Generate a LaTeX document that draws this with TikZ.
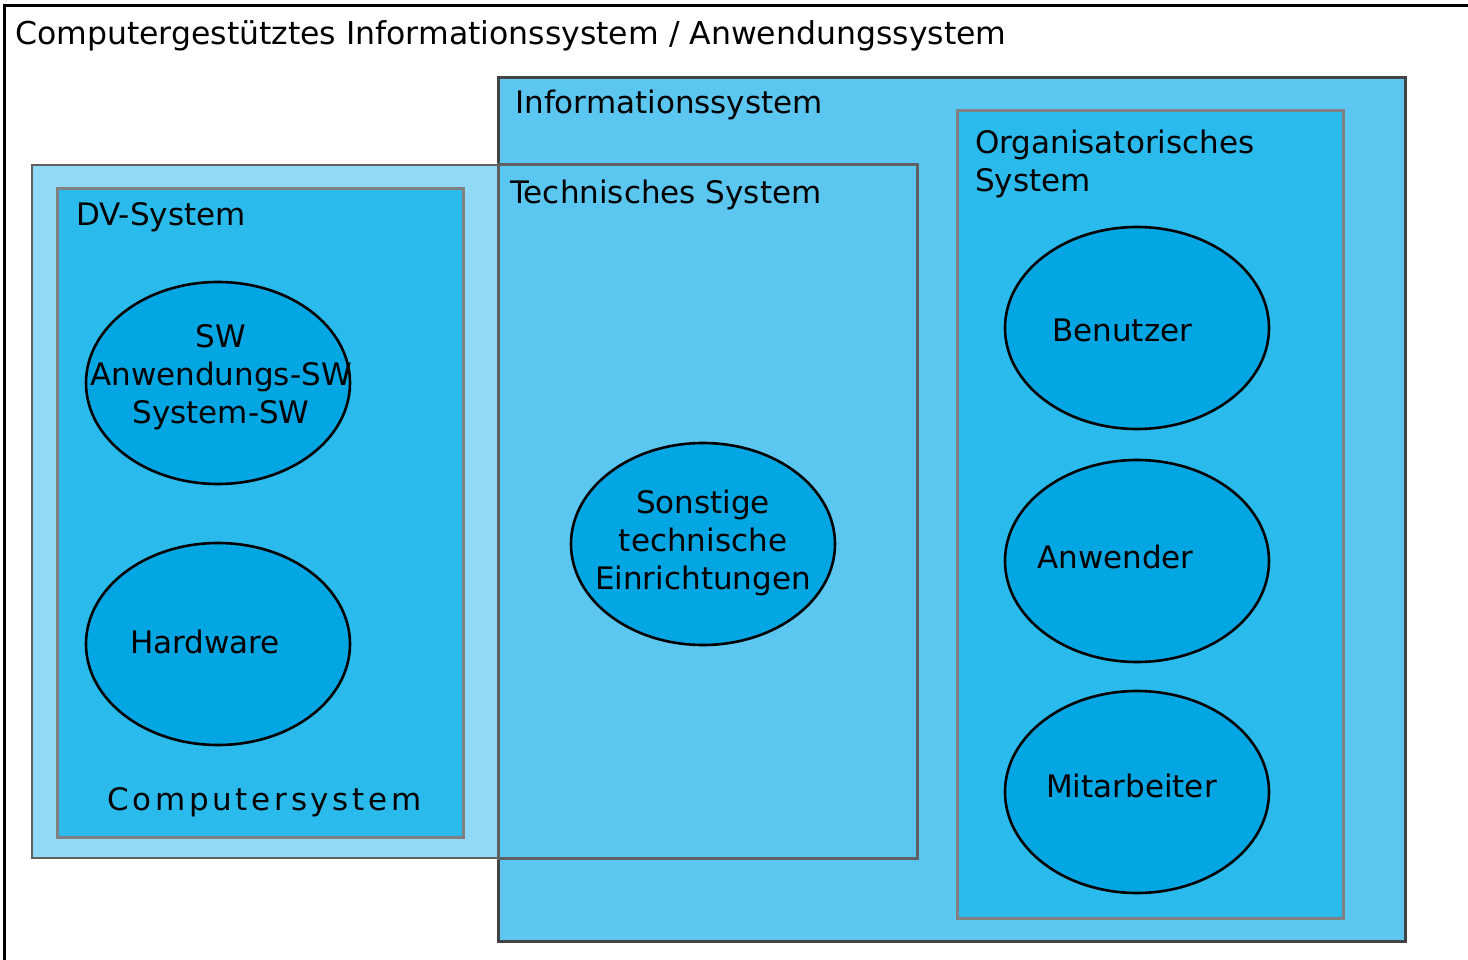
\documentclass[tikz,border=0pt]{standalone}
\usepackage{fontspec}
\setmainfont{DejaVu Sans}
\usetikzlibrary{shapes.geometric}
\definecolor{infofill}{HTML}{5BC6F0}
\definecolor{compfill}{HTML}{92D9F5}
\definecolor{dvfill}{HTML}{2ABAEB}
\definecolor{ellfill}{HTML}{02A6E2}
\definecolor{darkframe}{HTML}{444444}
\definecolor{midframe}{HTML}{606060}
\definecolor{lightframe}{HTML}{808080}
\tikzset{
  lbl/.style={font=\fontsize{31}{38}\selectfont, inner sep=0pt, text=black},
  lblw/.style={lbl, anchor=west},
  lblc/.style={lbl, align=center},
  ell/.style={ellipse, draw=black, line width=2.6pt, fill=ellfill, minimum width=264pt, minimum height=202pt, inner sep=0pt},
}
\begin{document}
\begin{tikzpicture}[x=1pt,y=-1pt]
\useasboundingbox (0,0) rectangle (1468,960);
\fill[white] (0,0) rectangle (1468,960);
% outer frame
\draw[black, line width=3pt] (4,980) -- (4,6) -- (1490,6);
\node[lbl, anchor=west, font=\fontsize{31.5}{38}\selectfont] (title) at (15,36) {Computergestütztes Informationssystem / Anwendungssystem};
% Computersystem (light)
\draw[midframe, line width=2.5pt, fill=compfill] (32,165) rectangle (498,858);
% Informationssystem
\draw[darkframe, line width=3pt, fill=infofill] (498,78) rectangle (1405,941);
\node[lblw] (info) at (515,105) {Informationssystem};
% Technisches System
\draw[midframe, line width=3pt] (498,165) rectangle (917,858);
\node[lblw] (tech) at (510,195) {Technisches System};
% DV-System
\draw[lightframe, line width=3pt, fill=dvfill] (57,189) rectangle (463,837);
\node[lblw] (dv) at (76,217) {DV-System};
\node[lblw] (comp) at (107,802) {\addfontfeatures{LetterSpace=12}Computersystem};
% Organisatorisches System
\draw[lightframe, line width=3pt, fill=dvfill] (957,111) rectangle (1343,918);
\node[lbl, anchor=west, align=left] (org) at (975,164) {Organisatorisches\\System};
% ellipses
\node[ell] (swE) at (218,383) {};
\node[lblc] (sw) at (221,377) {SW\\Anwendungs-SW\\System-SW};
\node[ell] (hwE) at (218,644) {};
\node[lblw] (hw) at (130,642) {Hardware};
\node[ell] (soE) at (703,544) {};
\node[lblc] (so) at (703,543) {Sonstige\\technische\\Einrichtungen};
\node[ell] (beE) at (1137,328) {};
\node[lblw] (be) at (1052,330) {Benutzer};
\node[ell] (anE) at (1137,561) {};
\node[lblw] (an) at (1037,557) {Anwender};
\node[ell] (miE) at (1137,792) {};
\node[lblw] (mi) at (1046,786) {Mitarbeiter};
\end{tikzpicture}
\end{document}
